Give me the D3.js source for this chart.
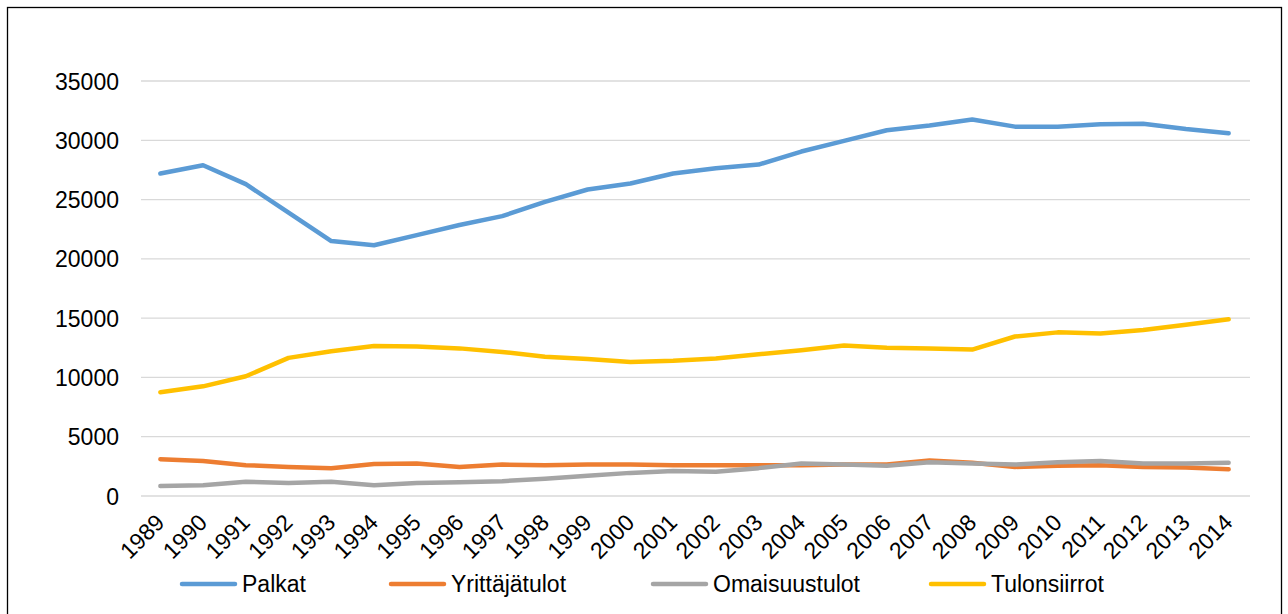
<!DOCTYPE html>
<html>
<head>
<meta charset="utf-8">
<script src="https://cdn.jsdelivr.net/npm/d3@7"></script>
<style>
  html, body { margin: 0; padding: 0; background: #fff; }
  svg text { font-family: "Liberation Sans", Arial, sans-serif; fill: #000; }
</style>
</head>
<body>
<svg id="chart" width="1288" height="614"></svg>
<script>
// Income components by year
const years = [1989,1990,1991,1992,1993,1994,1995,1996,1997,1998,1999,2000,2001,2002,2003,2004,2005,2006,2007,2008,2009,2010,2011,2012,2013,2014];
const palkat = [27200,27900,26300,23900,21500,21150,22000,22850,23600,24800,25850,26350,27200,27650,27950,29050,29950,30850,31250,31750,31150,31150,31350,31400,30950,30600];
const yrittajatulot = [3100,2950,2600,2450,2350,2700,2750,2450,2650,2600,2650,2650,2600,2600,2600,2600,2650,2650,3000,2800,2450,2550,2600,2450,2400,2250];
const omaisuustulot = [850,900,1200,1100,1200,900,1100,1150,1250,1450,1700,1950,2100,2050,2350,2750,2650,2550,2850,2750,2650,2850,2950,2750,2750,2800];
const tulonsiirrot = [8750,9250,10100,11650,12200,12650,12600,12450,12150,11750,11550,11300,11400,11600,11950,12300,12700,12500,12450,12350,13450,13800,13700,14000,14450,14900];
const yTicks = [0,5000,10000,15000,20000,25000,30000,35000];

const series = [
  { name: "Palkat", values: palkat, color: "#5B9BD5" },
  { name: "Yrittäjätulot", values: yrittajatulot, color: "#ED7D31" },
  { name: "Omaisuustulot", values: omaisuustulot, color: "#A5A5A5" },
  { name: "Tulonsiirrot", values: tulonsiirrot, color: "#FFC000" }
];

const fontSize = 23;
const svg = d3.select("#chart");

// outer frame
svg.append("rect")
  .attr("x", 7.5).attr("y", 7.5)
  .attr("width", 1274).attr("height", 620)
  .attr("fill", "none").attr("stroke", "#000").attr("stroke-width", 1.3);

const plotLeft = 139, plotRight = 1250, plotTop = 81, plotBottom = 496;

const x = d3.scalePoint().domain(years).range([plotLeft, plotRight]).padding(0.5);
const y = d3.scaleLinear().domain([0, 35000]).range([plotBottom, plotTop]);

// gridlines
svg.append("g").selectAll("line")
  .data(yTicks)
  .join("line")
  .attr("x1", plotLeft + 2).attr("x2", plotRight)
  .attr("y1", d => y(d)).attr("y2", d => y(d))
  .attr("stroke", "#D9D9D9").attr("stroke-width", 1.3);

// y axis labels
const yAxis = d3.axisLeft(y).tickValues(yTicks).tickSize(0).tickPadding(0).tickFormat(d3.format("d"));
const yg = svg.append("g").attr("transform", `translate(${plotLeft - 20},0)`).call(yAxis);
yg.select(".domain").remove();
yg.selectAll("text").attr("font-size", fontSize).attr("dy", "0.35em")
  .style("font-family", '"Liberation Sans", Arial, sans-serif').attr("fill", "#000");

// x axis labels, rotated
const xAxis = d3.axisBottom(x).tickSize(0).tickPadding(0);
const xg = svg.append("g").attr("transform", `translate(0,${plotBottom})`).call(xAxis);
xg.select(".domain").remove();
xg.selectAll("text")
  .attr("font-size", fontSize)
  .style("font-family", '"Liberation Sans", Arial, sans-serif')
  .attr("fill", "#000")
  .attr("text-anchor", "end")
  .attr("y", 0)
  .attr("dy", 0)
  .attr("transform", "translate(5,28) rotate(-45)");

// lines
const line = d3.line()
  .x((d, i) => x(years[i]))
  .y(d => y(d));

svg.append("g").selectAll("path")
  .data(series)
  .join("path")
  .attr("d", d => line(d.values))
  .attr("fill", "none")
  .attr("stroke", d => d.color)
  .attr("stroke-width", 4.5)
  .attr("stroke-linejoin", "round")
  .attr("stroke-linecap", "round");

// legend
const legendX = [182, 391, 653, 931];
const lg = svg.append("g").selectAll("g")
  .data(series)
  .join("g")
  .attr("transform", (d, i) => `translate(${legendX[i]},584)`);
lg.append("line")
  .attr("x1", 0).attr("x2", 53).attr("y1", 0).attr("y2", 0)
  .attr("stroke", d => d.color).attr("stroke-width", 4.5).attr("stroke-linecap", "round");
lg.append("text")
  .attr("x", 60).attr("y", 0).attr("dy", "0.35em")
  .attr("font-size", fontSize)
  .text(d => d.name);
</script>
</body>
</html>
